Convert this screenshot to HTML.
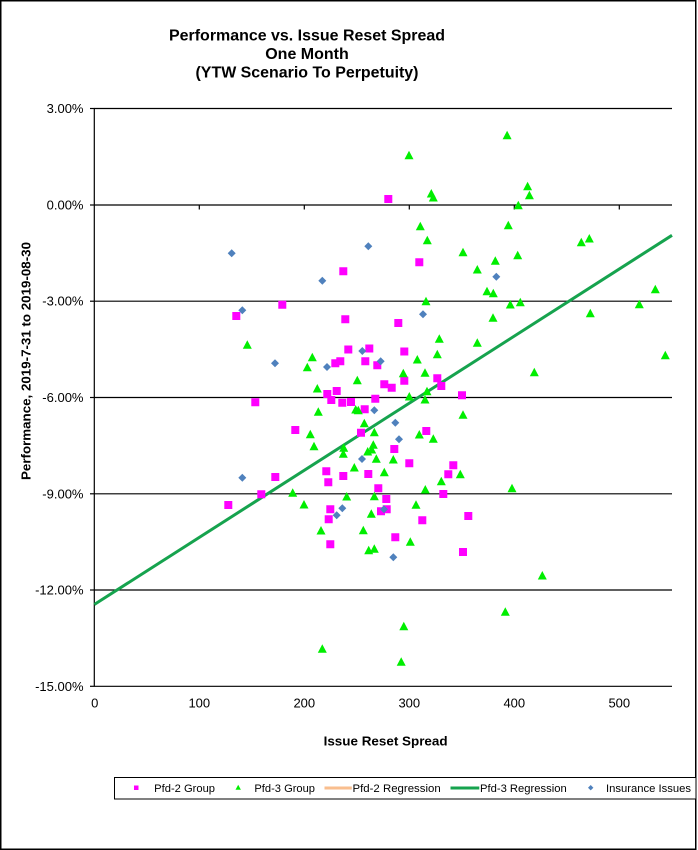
<!DOCTYPE html>
<html>
<head>
<meta charset="utf-8">
<style>
html,body{margin:0;padding:0;background:#fff;}
svg{display:block;}
text{font-family:"Liberation Sans",Arial,sans-serif;fill:#000;}
</style>
</head>
<body>
<svg width="698" height="850" viewBox="0 0 698 850" xmlns="http://www.w3.org/2000/svg">
<rect x="0" y="0" width="698" height="850" fill="#fff"/>
<rect x="0.75" y="0.75" width="695" height="848.5" fill="none" stroke="#000" stroke-width="1.5"/>

<!-- Title -->
<text x="307" y="40.7" font-size="16" font-weight="bold" text-anchor="middle" textLength="276" lengthAdjust="spacingAndGlyphs">Performance vs. Issue Reset Spread</text>
<text x="307" y="59" font-size="16" font-weight="bold" text-anchor="middle">One Month</text>
<text x="307" y="77.3" font-size="16" font-weight="bold" text-anchor="middle" textLength="223" lengthAdjust="spacingAndGlyphs">(YTW Scenario To Perpetuity)</text>

<!-- Gridlines -->
<g stroke="#000" stroke-width="1.2" fill="none">
<line x1="94" y1="108.5" x2="672" y2="108.5"/>
<line x1="94" y1="205" x2="672" y2="205"/>
<line x1="94" y1="301.2" x2="672" y2="301.2"/>
<line x1="94" y1="397.5" x2="672" y2="397.5"/>
<line x1="94" y1="493.8" x2="672" y2="493.8"/>
<line x1="94" y1="590" x2="672" y2="590"/>
<line x1="94" y1="686.3" x2="672" y2="686.3"/>
<!-- y axis -->
<line x1="94.3" y1="108.5" x2="94.3" y2="686.3"/>
<!-- y ticks -->
<line x1="90" y1="108.5" x2="94.3" y2="108.5"/>
<line x1="90" y1="205" x2="94.3" y2="205"/>
<line x1="90" y1="301.2" x2="94.3" y2="301.2"/>
<line x1="90" y1="397.5" x2="94.3" y2="397.5"/>
<line x1="90" y1="493.8" x2="94.3" y2="493.8"/>
<line x1="90" y1="590" x2="94.3" y2="590"/>
<line x1="90" y1="686.3" x2="94.3" y2="686.3"/>
<!-- x ticks on 0% line -->
<line x1="199.3" y1="205" x2="199.3" y2="209.5"/>
<line x1="304.3" y1="205" x2="304.3" y2="209.5"/>
<line x1="409.3" y1="205" x2="409.3" y2="209.5"/>
<line x1="514.3" y1="205" x2="514.3" y2="209.5"/>
<line x1="619.3" y1="205" x2="619.3" y2="209.5"/>
</g>

<!-- Y labels -->
<g font-size="13" text-anchor="end">
<text x="83.5" y="113">3.00%</text>
<text x="83.5" y="209.5">0.00%</text>
<text x="83.5" y="305.7">-3.00%</text>
<text x="83.5" y="402">-6.00%</text>
<text x="83.5" y="498.3">-9.00%</text>
<text x="83.5" y="594.5">-12.00%</text>
<text x="83.5" y="690.8">-15.00%</text>
</g>

<!-- X labels -->
<g font-size="13" text-anchor="middle">
<text x="94.8" y="707.5">0</text>
<text x="199.3" y="707.5">100</text>
<text x="304.3" y="707.5">200</text>
<text x="409.3" y="707.5">300</text>
<text x="514.3" y="707.5">400</text>
<text x="619.3" y="707.5">500</text>
</g>

<!-- Axis titles -->
<text x="385.6" y="745.3" font-size="13" font-weight="bold" text-anchor="middle" textLength="124" lengthAdjust="spacingAndGlyphs">Issue Reset Spread</text>
<text transform="translate(30.5,361) rotate(-90)" x="0" y="0" font-size="13" font-weight="bold" text-anchor="middle" textLength="238" lengthAdjust="spacingAndGlyphs">Performance, 2019-7-31  to 2019-08-30</text>

<!-- Regression line -->
<line x1="94.3" y1="604.5" x2="672" y2="235.3" stroke="#16a34e" stroke-width="3"/>

<!-- Pfd-2 squares -->
<path fill="#ff00ff" d="
M384.3,195h8v8h-8z M339.3,267.3h8v8h-8z M415.3,258.3h8v8h-8z M341.3,315.3h8v8h-8z M394.3,319h8v8h-8z
M232.3,312h8v8h-8z M278.3,300.7h8v8h-8z M344.3,345.5h8v8h-8z M365.3,344.5h8v8h-8z M400.3,347.5h8v8h-8z
M331.3,359.3h8v8h-8z M336.3,357.3h8v8h-8z M361.3,357.3h8v8h-8z M373.3,361.3h8v8h-8z M400.3,376.7h8v8h-8z
M433.3,374.3h8v8h-8z M437.3,382h8v8h-8z M332.7,387h8v8h-8z M323.3,390h8v8h-8z M327.3,396h8v8h-8z
M338.3,398.7h8v8h-8z M347,398h8v8h-8z M371.3,394.7h8v8h-8z M380.3,380.3h8v8h-8z M387.7,383.7h8v8h-8z
M458,391.3h8v8h-8z M360.7,405.3h8v8h-8z M251.3,398.3h8v8h-8z M291.3,426h8v8h-8z M357,428.7h8v8h-8z
M422.3,427h8v8h-8z M390.3,445h8v8h-8z M405.3,459.3h8v8h-8z M322.3,467.3h8v8h-8z M324.3,478.3h8v8h-8z
M339.3,472h8v8h-8z M364.3,470h8v8h-8z M449.3,461.3h8v8h-8z M444.3,470.3h8v8h-8z M374.3,484.3h8v8h-8z
M382.3,495h8v8h-8z M439.3,490h8v8h-8z M326.3,505.3h8v8h-8z M324.7,515.3h8v8h-8z M377,507.3h8v8h-8z
M382.7,505.3h8v8h-8z M418.3,516.3h8v8h-8z M464.3,512h8v8h-8z M391.3,533.3h8v8h-8z M326.3,540.3h8v8h-8z
M459,548h8v8h-8z M271.3,473h8v8h-8z M257.3,490.3h8v8h-8z M224.3,501h8v8h-8z"/>

<!-- Pfd-3 triangles -->
<path fill="#00ee00" d="
M409,150.7l4.5,8.5h-9z M507.1,130.7l4.5,8.5h-9z M431.3,189l4.5,8.5h-9z M433.3,193l4.5,8.5h-9z M527.6,181.7l4.5,8.5h-9z
M529.4,190.7l4.5,8.5h-9z M518.3,200.7l4.5,8.5h-9z M420.3,221.7l4.5,8.5h-9z M427.3,235.7l4.5,8.5h-9z M463,247.7l4.5,8.5h-9z
M477.3,265l4.5,8.5h-9z M426,296.7l4.5,8.5h-9z M439.3,334.3l4.5,8.5h-9z M477.3,338.3l4.5,8.5h-9z M508.3,220.7l4.5,8.5h-9z
M581.3,237.7l4.5,8.5h-9z M589.3,234l4.5,8.5h-9z M517.7,250.7l4.5,8.5h-9z M495.3,256.3l4.5,8.5h-9z M487,286.7l4.5,8.5h-9z
M493.3,288.7l4.5,8.5h-9z M655.3,284.7l4.5,8.5h-9z M510.3,300l4.5,8.5h-9z M520.3,297.7l4.5,8.5h-9z M639.3,299.7l4.5,8.5h-9z
M590.3,308.7l4.5,8.5h-9z M493,313.3l4.5,8.5h-9z M665.3,350.7l4.5,8.5h-9z M534.3,367.7l4.5,8.5h-9z M512,483.7l4.5,8.5h-9z
M542.3,571l4.5,8.5h-9z M505.3,607.3l4.5,8.5h-9z M403.8,621.7l4.5,8.5h-9z M322.3,644.3l4.5,8.5h-9z M401.2,657.3l4.5,8.5h-9z
M247.3,340.3l4.5,8.5h-9z M292.7,488.3l4.5,8.5h-9z M437.3,349.7l4.5,8.5h-9z M312.3,352.7l4.5,8.5h-9z M307.3,362.7l4.5,8.5h-9z
M417.3,355l4.5,8.5h-9z M403.3,368.7l4.5,8.5h-9z M425,368.3l4.5,8.5h-9z M357.3,375.7l4.5,8.5h-9z M317.3,384l4.5,8.5h-9z
M427,386.7l4.5,8.5h-9z M409.3,392l4.5,8.5h-9z M425,395l4.5,8.5h-9z M318.3,407.3l4.5,8.5h-9z M355.7,405l4.5,8.5h-9z
M358.3,405.7l4.5,8.5h-9z M463,410.3l4.5,8.5h-9z M310.3,429.7l4.5,8.5h-9z M364.3,418.7l4.5,8.5h-9z M374.3,427.7l4.5,8.5h-9z
M419.3,430l4.5,8.5h-9z M433.3,434.3l4.5,8.5h-9z M314,441.7l4.5,8.5h-9z M343.7,443.3l4.5,8.5h-9z M343.3,449.3l4.5,8.5h-9z
M373.3,440.3l4.5,8.5h-9z M367.7,447l4.5,8.5h-9z M371.7,445l4.5,8.5h-9z M376.3,454.3l4.5,8.5h-9z M393.3,455l4.5,8.5h-9z
M354.3,463l4.5,8.5h-9z M384.3,467.7l4.5,8.5h-9z M460.3,469.7l4.5,8.5h-9z M441.3,476.7l4.5,8.5h-9z M346.7,492l4.5,8.5h-9z
M374.3,491.7l4.5,8.5h-9z M425.3,485l4.5,8.5h-9z M304,500l4.5,8.5h-9z M371.3,509.3l4.5,8.5h-9z M416,500.3l4.5,8.5h-9z
M321,526l4.5,8.5h-9z M363.3,525.7l4.5,8.5h-9z M410.3,537.3l4.5,8.5h-9z M368.7,545.7l4.5,8.5h-9z M374.3,544.3l4.5,8.5h-9z"/>

<!-- Insurance diamonds -->
<path fill="#4f81bd" d="
M231.7,249.3l4,4l-4,4l-4,-4z M242.3,306.3l4,4l-4,4l-4,-4z M275,359.3l4,4l-4,4l-4,-4z M242.3,473.7l4,4l-4,4l-4,-4z
M368.3,242.3l4,4l-4,4l-4,-4z M322.3,276.7l4,4l-4,4l-4,-4z M423,310.3l4,4l-4,4l-4,-4z M362.3,347l4,4l-4,4l-4,-4z
M327,363l4,4l-4,4l-4,-4z M380.7,357.3l4,4l-4,4l-4,-4z M374.3,406.3l4,4l-4,4l-4,-4z M395.3,418.7l4,4l-4,4l-4,-4z
M399,435.3l4,4l-4,4l-4,-4z M362,455l4,4l-4,4l-4,-4z M342.3,504.3l4,4l-4,4l-4,-4z M336.7,511.3l4,4l-4,4l-4,-4z
M384,505.3l4,4l-4,4l-4,-4z M393.3,553.3l4,4l-4,4l-4,-4z M496.3,272.7l4,4l-4,4l-4,-4z"/>

<!-- Legend -->
<rect x="114.5" y="777.5" width="581.5" height="21.5" fill="#fff" stroke="#000" stroke-width="1"/>
<rect x="134" y="785.5" width="4.5" height="4.5" fill="#ff00ff"/>
<path d="M238.2,784.8l2.7,5h-5.4z" fill="#00ee00"/>
<line x1="324.5" y1="788" x2="351.8" y2="788" stroke="#f9be8e" stroke-width="3"/>
<line x1="450.5" y1="788" x2="479.3" y2="788" stroke="#16a34e" stroke-width="3"/>
<path d="M590.7,785l2.7,2.7l-2.7,2.7l-2.7,-2.7z" fill="#4f81bd"/>
<g font-size="11">
<text x="154.2" y="791.8" textLength="60.8" lengthAdjust="spacingAndGlyphs">Pfd-2 Group</text>
<text x="254.4" y="791.8" textLength="60.6" lengthAdjust="spacingAndGlyphs">Pfd-3 Group</text>
<text x="352.5" y="791.8" textLength="88.2" lengthAdjust="spacingAndGlyphs">Pfd-2 Regression</text>
<text x="480" y="791.8" textLength="86.7" lengthAdjust="spacingAndGlyphs">Pfd-3 Regression</text>
<text x="606" y="791.8" textLength="85" lengthAdjust="spacingAndGlyphs">Insurance Issues</text>
</g>
</svg>
</body>
</html>
